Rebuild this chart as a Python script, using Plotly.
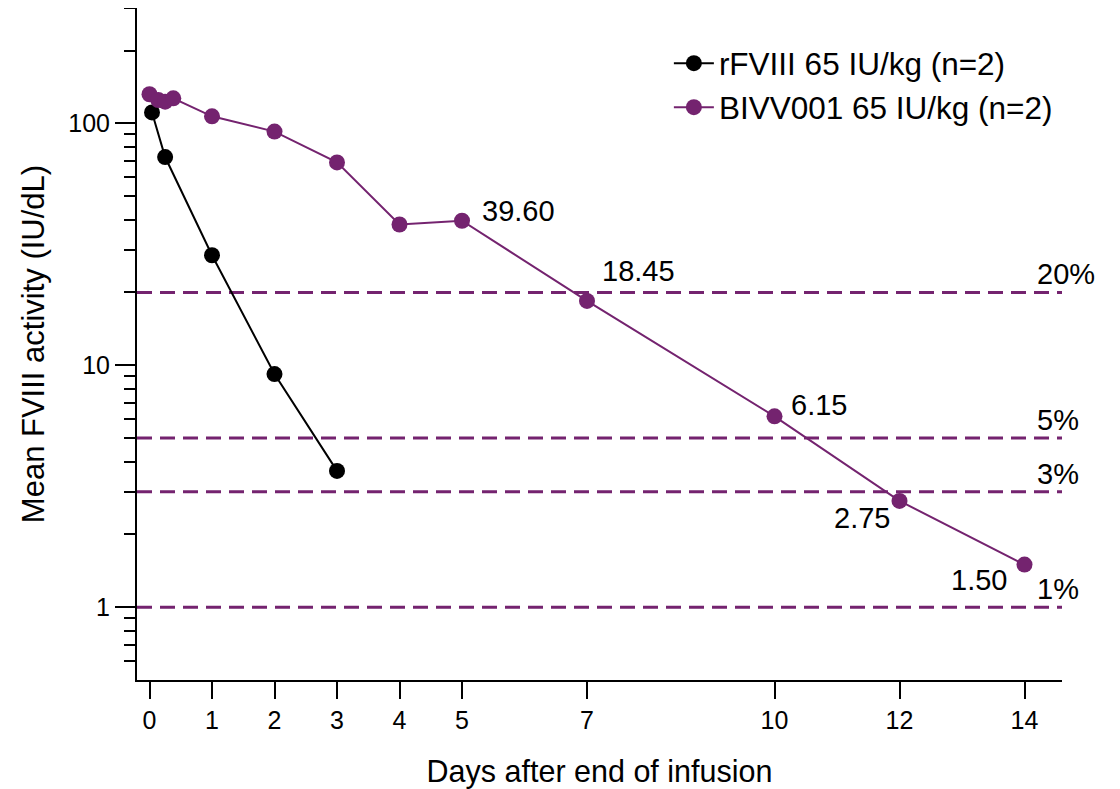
import math
import plotly.graph_objects as go

# ---- data ----
rf_days = [0.04, 0.25, 1, 2, 3]
rf_vals = [111, 72.6, 28.5, 9.2, 3.66]

bi_days = [0, 0.14, 0.25, 0.38, 1, 2, 3, 4, 5, 7, 10, 12, 14]
bi_vals = [132, 125, 123, 127, 107, 92.5, 69, 38.2, 39.60, 18.45, 6.15, 2.75, 1.50]

label_days = [5, 7, 10, 12, 14]
label_vals = [39.60, 18.45, 6.15, 2.75, 1.50]
label_text = ["39.60", "18.45", "6.15", "2.75", "1.50"]

ref_levels = [20, 5, 3, 1]
ref_text = ["20%", "5%", "3%", "1%"]

x_ticks = [0, 1, 2, 3, 4, 5, 7, 10, 12, 14]
y_major = [1, 10, 100]
y_minor = [0.6, 0.7, 0.8, 0.9, 2, 3, 4, 5, 6, 7, 8, 9,
           20, 30, 40, 50, 60, 70, 80, 90, 200, 300]

PURPLE = "#74236f"
FONT = "Arial, Liberation Sans, sans-serif"

fig = go.Figure()
fig.add_trace(go.Scatter(
    x=rf_days, y=rf_vals, mode="lines+markers", name="rFVIII 65 IU/kg (n=2)",
    line=dict(color="black", width=2), marker=dict(color="black", size=16),
    legendgroup="a"))
fig.add_trace(go.Scatter(
    x=bi_days, y=bi_vals, mode="lines+markers", name="BIVV001 65 IU/kg (n=2)",
    line=dict(color=PURPLE, width=2), marker=dict(color=PURPLE, size=16),
    legendgroup="b"))

for lv in ref_levels:
    fig.add_shape(type="line", xref="paper", x0=0, x1=1, yref="y", y0=lv, y1=lv,
                  line=dict(color=PURPLE, width=3, dash="15px,8px"), layer="below")

# annotations on a log axis take log10 positions
for lv, t in zip(ref_levels, ref_text):
    fig.add_annotation(x=14.17, y=math.log10(lv), xref="x", yref="y", text=t,
                       showarrow=False, xanchor="left", yanchor="middle", yshift=18,
                       font=dict(size=29, color="black", family=FONT))

offsets = {  # (xanchor, xshift, yshift)
    "39.60": ("left", 18, 10),
    "18.45": ("left", 13, 30),
    "6.15": ("left", 14, 11),
    "2.75": ("right", -8, -17),
    "1.50": ("right", -16, -15),
}
for d, v, t in zip(label_days, label_vals, label_text):
    xa, xs, ys = offsets[t]
    fig.add_annotation(x=d, y=math.log10(v), text=t, showarrow=False, xanchor=xa,
                       yanchor="middle", xshift=xs, yshift=ys,
                       font=dict(size=29, color="black", family=FONT))

fig.update_layout(
    width=1112, height=781,
    margin=dict(l=129, r=58, t=0, b=109),
    paper_bgcolor="white", plot_bgcolor="white",
    font=dict(family=FONT, color="black"),
    showlegend=True,
    legend=dict(x=0.575, y=0.958, xanchor="left", yanchor="top",
                font=dict(size=31.5, family=FONT, color="black"),
                bgcolor="rgba(0,0,0,0)", tracegroupgap=0, itemwidth=40),
    xaxis=dict(
        range=[-0.2, 14.6], tickmode="array", tickvals=x_ticks,
        showline=True, linecolor="black", linewidth=2,
        ticks="outside", ticklen=17, tickwidth=2, tickcolor="black",
        tickfont=dict(size=25, family=FONT), showgrid=False, zeroline=False,
        title=dict(text="Days after end of infusion", font=dict(size=30.5, family=FONT),
                   standoff=31),
    ),
    yaxis=dict(
        type="log", range=[-0.30103, 2.47712],
        tickmode="array", tickvals=y_major, ticktext=["1", "10", "100"],
        showline=True, linecolor="black", linewidth=2,
        ticks="outside", ticklen=20, tickwidth=2, tickcolor="black",
        tickfont=dict(size=25, family=FONT), showgrid=False, zeroline=False,
        minor=dict(tickvals=y_minor, ticks="outside", ticklen=11, tickwidth=2,
                   tickcolor="black", showgrid=False),
        title=dict(text="Mean FVIII activity (IU/dL)", font=dict(size=31, family=FONT),
                   standoff=14),
    ),
)

fig.write_html("out.html")
